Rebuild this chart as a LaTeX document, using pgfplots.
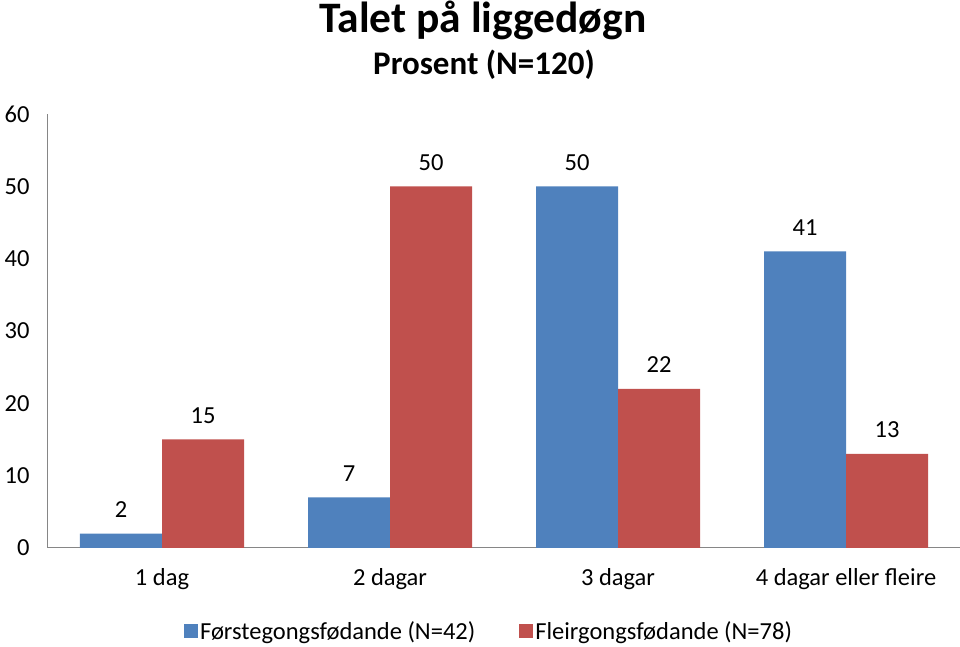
\documentclass[border=0pt]{standalone}
\usepackage{pgfplots}
\pgfplotsset{compat=1.18}
\usepackage{fontspec}
\setmainfont{Carlito}
\definecolor{blueA}{HTML}{4F81BD}
\definecolor{redA}{HTML}{C0504D}
\definecolor{axgray}{HTML}{868686}
\begin{document}
\begin{tikzpicture}[x=1pt,y=1pt]
\useasboundingbox (0,0) rectangle (960,647);
\node[font=\fontsize{43.5}{46}\selectfont\bfseries] at (483,627) {Talet på liggedøgn};
\node[font=\fontsize{33}{36}\selectfont\bfseries] at (484,582) {Prosent (N=120)};
\begin{axis}[
  at={(48pt,99pt)}, anchor=south west,
  scale only axis, width=912pt, height=434pt,
  ybar=0pt, bar width=82pt,
  xmin=-0.5, xmax=3.5, ymin=0, ymax=60,
  xtick=data, xticklabels={1 dag, 2 dagar, 3 dagar, 4 dagar eller fleire},
  ytick={0,10,...,60},
  axis x line*=bottom, axis y line*=left,
  axis line style={axgray, line width=1pt, -},
  major tick length=0pt,
  /pgf/number format/assume math mode=true,
  tick label style={font=\fontsize{24.5}{28}\selectfont},
  yticklabel style={xshift=-15pt},
  xticklabel style={yshift=-17pt},
  nodes near coords,
  every node near coord/.append style={font=\fontsize{24.5}{28}\selectfont, anchor=base, yshift=16pt},
  legend columns=2,
  legend style={at={(0.4836,-0.191)}, anchor=center, draw=none, font=\fontsize{24.5}{28}\selectfont,
    /tikz/every even column/.append style={column sep=42pt}},
  legend image code/.code={\fill[#1] (0pt,-7pt) rectangle (14pt,7pt);},
]
\addplot[fill=blueA, draw=none] coordinates {(0,2) (1,7) (2,50) (3,41)};
\addplot[fill=redA, draw=none] coordinates {(0,15) (1,50) (2,22) (3,13)};
\legend{Førstegongsfødande (N=42), Fleirgongsfødande (N=78)}
\end{axis}
\end{tikzpicture}
\end{document}
